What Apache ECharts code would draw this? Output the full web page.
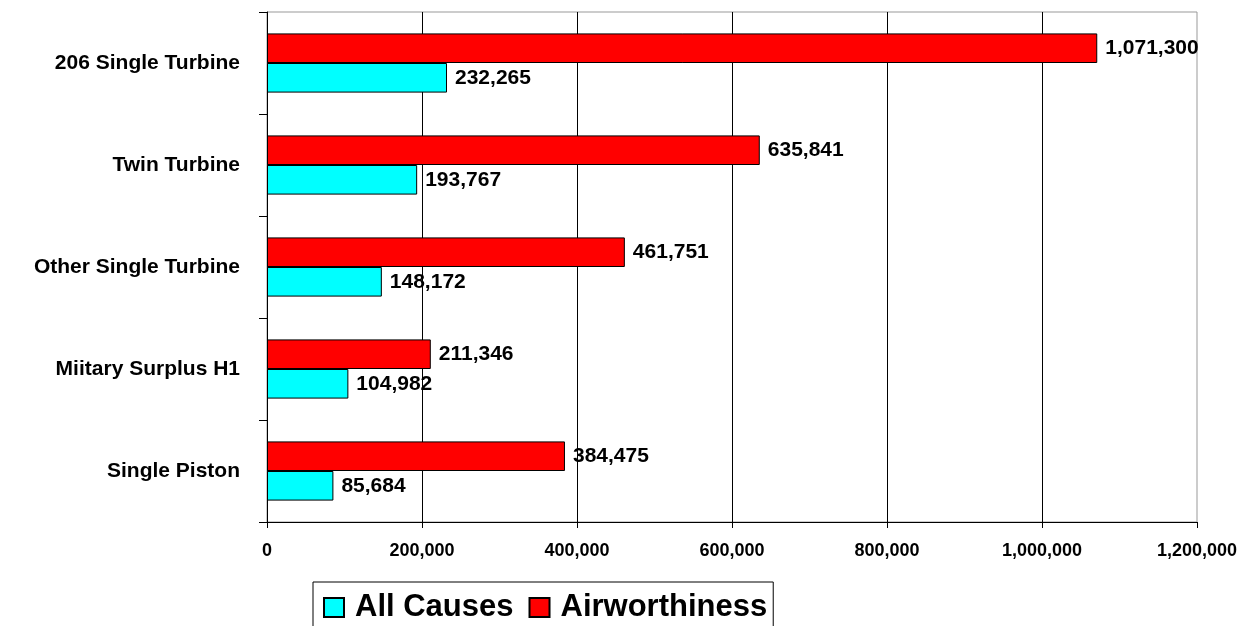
<!DOCTYPE html>
<html>
<head>
<meta charset="utf-8">
<script src="https://cdn.jsdelivr.net/npm/echarts@6/dist/echarts.min.js"></script>
<style>
html,body{margin:0;padding:0;background:#fff;}
#chart{width:1247px;height:626px;}
</style>
</head>
<body>
<div id="chart"></div>
<script>
const categories = ['Single Piston', 'Miitary Surplus H1', 'Other Single Turbine', 'Twin Turbine', '206 Single Turbine'];
const allCauses = [85684, 104982, 148172, 193767, 232265];
const airworthiness = [384475, 211346, 461751, 635841, 1071300];
const xTicks = [0, 200000, 400000, 600000, 800000, 1000000, 1200000];

const FONT = 'Liberation Sans, Arial, sans-serif';
const fmt = v => String(v).replace(/\B(?=(\d{3})+(?!\d))/g, ',');

const chart = echarts.init(document.getElementById('chart'));
const labelStyle = {
  show: true, position: 'right', distance: 8,
  color: '#000', fontWeight: 'bold', fontSize: 21, fontFamily: FONT,
  formatter: p => fmt(p.value)
};
chart.setOption({
  animation: false,
  backgroundColor: '#fff',
  grid: {left: 267, right: 50, top: 12, bottom: 104, show: true, borderColor: '#999', borderWidth: 1},
  legend: {
    left: 313, top: 582,
    data: ['All Causes', 'Airworthiness'],
    icon: 'rect', itemWidth: 20, itemHeight: 19, itemGap: 15,
    borderColor: '#000', borderWidth: 1, padding: [10, 6, 12, 10],
    textStyle: {fontSize: 31, fontWeight: 'bold', color: '#000', fontFamily: FONT, padding: [0, 0, 0, 6]}
  },
  xAxis: {
    type: 'value', min: xTicks[0], max: xTicks[xTicks.length - 1], interval: xTicks[1] - xTicks[0],
    axisLine: {show: true, lineStyle: {color: '#000', width: 1}},
    axisTick: {show: true, length: 6, lineStyle: {color: '#000'}},
    axisLabel: {margin: 20, fontSize: 18, fontWeight: 'bold', color: '#000', fontFamily: FONT, formatter: v => fmt(v)},
    splitLine: {show: true, showMinLine: false, showMaxLine: false, lineStyle: {color: '#000', width: 1}}
  },
  yAxis: {
    type: 'category', data: categories,
    axisLine: {show: true, lineStyle: {color: '#000', width: 1}},
    axisTick: {show: true, length: 8, lineStyle: {color: '#000'}},
    axisLabel: {margin: 27, fontSize: 21, fontWeight: 'bold', color: '#000', fontFamily: FONT},
    splitLine: {show: false}
  },
  series: [
    {name: 'Airworthiness', type: 'bar', data: airworthiness, barGap: '0%', barCategoryGap: '42%',
     itemStyle: {color: '#FF0000', borderColor: '#000', borderWidth: 1}, label: labelStyle},
    {name: 'All Causes', type: 'bar', data: allCauses, barGap: '0%', barCategoryGap: '42%',
     itemStyle: {color: '#00FFFF', borderColor: '#000', borderWidth: 1}, label: labelStyle}
  ]
});
</script>
</body>
</html>
